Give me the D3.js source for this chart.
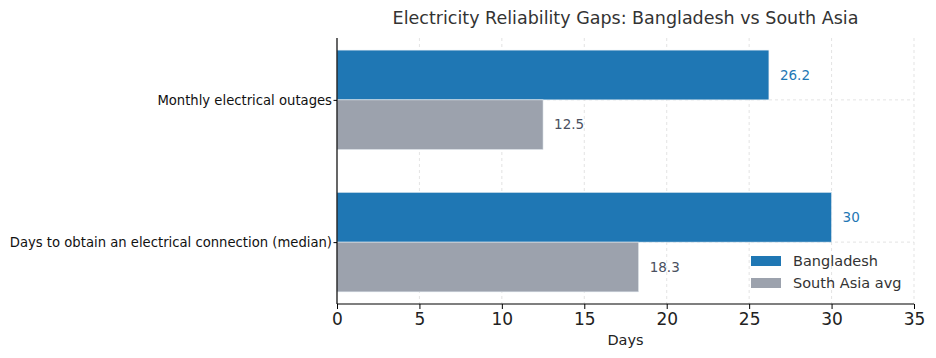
<!DOCTYPE html>
<html><head><meta charset="utf-8">
<script src="https://cdn.jsdelivr.net/npm/d3@7"></script>
<style>body{margin:0;background:#fff;} text{font-family:"DejaVu Sans",sans-serif;}</style>
</head><body>
<svg id="c" width="936" height="358"></svg>
<script>
const categories = ["Days to obtain an electrical connection (median)", "Monthly electrical outages"];
const seriesNames = ["Bangladesh", "South Asia avg"];
const bangladesh = [30, 26.2];
const southAsia = [18.3, 12.5];
const xTicks = [0, 5, 10, 15, 20, 25, 30, 35];
const colors = ["#1f77b4", "#9ca2ad"];
const labelColors = ["#1f77b4", "#4a5060"];

const svg = d3.select("#c");
const L = 337, R = 914, T = 38, B = 304;
const x = d3.scaleLinear().domain([0, 35]).range([L, R]);
const y = d3.scaleLinear().domain([-0.435, 1.435]).range([B, T]);
const h = 0.35;

// grid
svg.append("g").selectAll("line").data(xTicks.slice(1)).join("line")
  .attr("x1", d => x(d)).attr("x2", d => x(d)).attr("y1", T).attr("y2", B)
  .attr("stroke", "#dcdcdc").attr("stroke-dasharray", "3,3").attr("stroke-width", 0.8);
svg.append("g").selectAll("line").data(categories).join("line")
  .attr("x1", L).attr("x2", R).attr("y1", (d, i) => y(i)).attr("y2", (d, i) => y(i))
  .attr("stroke", "#dcdcdc").attr("stroke-dasharray", "3,3").attr("stroke-width", 0.8);

const series = [bangladesh, southAsia];
const offsets = [h / 2, -h / 2];
series.forEach((vals, s) => {
  const g = svg.append("g");
  g.selectAll("rect").data(vals).join("rect")
    .attr("x", x(0)).attr("width", d => x(d) - x(0))
    .attr("y", (d, i) => y(i + offsets[s] + h / 2))
    .attr("height", y(0) - y(h))
    .attr("fill", colors[s]).attr("stroke", "#e8eef4").attr("stroke-width", 0.6);
  g.selectAll("text").data(vals).join("text")
    .attr("x", d => x(d) + 11)
    .attr("y", (d, i) => y(i + offsets[s]))
    .attr("dy", "0.35em")
    .attr("font-size", 13.5).attr("fill", labelColors[s])
    .text(d => d);
});

// axes
const xa = svg.append("g").attr("transform", `translate(0,${B})`)
  .call(d3.axisBottom(x).tickValues(xTicks).tickSize(5).tickPadding(4).tickFormat(d3.format("d")));
xa.select(".domain").attr("stroke", "#000").attr("stroke-width", 1.2).attr("d", `M${L},0H${R}`);
xa.selectAll(".tick line").attr("stroke", "#000").attr("stroke-width", 1);
xa.selectAll(".tick text").attr("font-size", 17).attr("fill", "#222").attr("font-family", "DejaVu Sans");

const ya = svg.append("g").attr("transform", `translate(${L},0)`)
  .call(d3.axisLeft(y).tickValues([0, 1]).tickSize(3.5).tickPadding(1.5).tickFormat(i => categories[i]));
ya.select(".domain").attr("stroke", "#000").attr("stroke-width", 1.2).attr("d", `M0,${T}V${B}`);
ya.selectAll(".tick line").attr("stroke", "#000");
ya.selectAll(".tick text").attr("font-size", 13.2).attr("fill", "#111").attr("font-family", "DejaVu Sans");

svg.append("text").attr("x", (L + R) / 2).attr("y", 345).attr("text-anchor", "middle")
  .attr("font-size", 14.5).attr("fill", "#222").text("Days");
svg.append("text").attr("x", (L + R) / 2).attr("y", 24).attr("text-anchor", "middle")
  .attr("font-size", 17.5).attr("fill", "#333").text("Electricity Reliability Gaps: Bangladesh vs South Asia");

// legend
const lg = svg.append("g");
seriesNames.forEach((n, i) => {
  lg.append("rect").attr("x", 751).attr("y", 256 + i * 22).attr("width", 30).attr("height", 10).attr("fill", colors[i]);
  lg.append("text").attr("x", 793).attr("y", 261 + i * 22).attr("dy", "0.35em")
    .attr("font-size", 14.5).attr("fill", "#333").text(n);
});
</script>
</body></html>
